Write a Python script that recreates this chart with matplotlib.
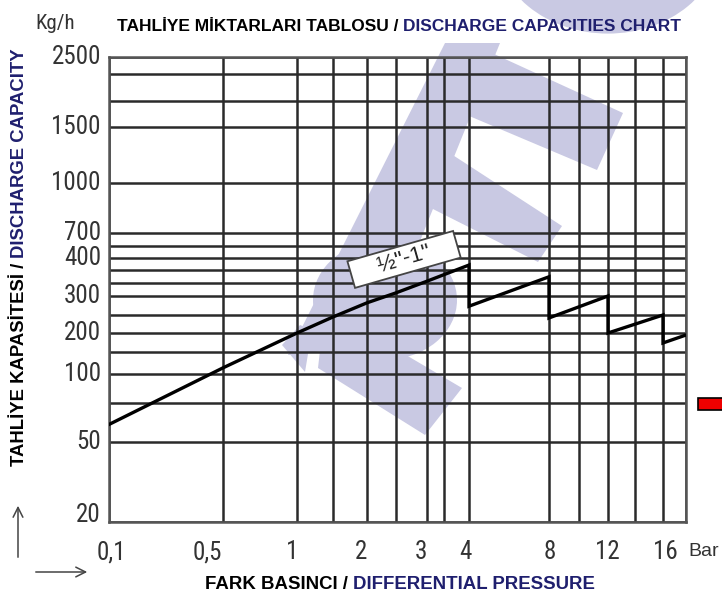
import numpy as np
import matplotlib
matplotlib.use('Agg')
import matplotlib.pyplot as plt
from matplotlib import font_manager
from matplotlib.transforms import offset_copy
from matplotlib.patches import Polygon, Circle, Rectangle

# pressure (bar) and discharge capacity (kg/h)
pressure = [0.1, 0.5, 1, 1.5, 2, 2.5, 3, 3.5, 4, 4, 8, 8, 12, 12, 16, 16, 18]
capacity = [60, 112, 200, 244, 281, 307, 334, 349, 376, 272, 344, 241, 300, 200, 250, 172, 194]

x_ticks = [0.1, 0.5, 1, 2, 3, 4, 8, 12, 16]
x_tick_labels = ['0,1', '0,5', '1', '2', '3', '4', '8', '12', '16']
y_ticks = [20, 50, 100, 200, 300, 400, 700, 1000, 1500, 2500]
y_tick_labels = ['20', '50', '100', '200', '300', '400', '700', '1000', '1500', '2500']

# the printed grid is not a true log scale: grid values and where they sit
x_grid = [0.1, 0.5, 1, 1.5, 2, 2.5, 3, 3.5, 4, 8, 10, 12, 14, 16, 18]
x_grid_pos = [0, 114, 188, 224, 258, 287, 318, 335, 360, 440, 470, 499, 526, 554, 577]
y_grid = [20, 50, 75, 100, 150, 200, 250, 300, 330, 360, 400, 500, 700, 1000, 1500, 1800, 2200, 2500]
y_grid_pos = [0, 80, 119, 148, 170, 189, 207, 226, 239, 252, 264, 276, 289, 339, 395, 421, 448, 465]
# printed x labels sit a little off their grid lines (pixels)
x_label_nudge = [2, -16, -5, -6, -6, -4, 1, -1, 2]

NAVY = '#1f1f6e'
GRID = '#2a2a2a'
TICK = '#333333'
LAVENDER = '#c9c9e3'
SANS = ['Liberation Sans', 'DejaVu Sans']

# narrow digits if a condensed face is around, otherwise a smaller Arial-like face
_installed = {f.name for f in font_manager.fontManager.ttflist}
NARROW, TICK_SIZE, KG_SIZE = SANS, 15.5, 13
for name, size, kg in [('Liberation Sans Narrow', 19, 15.5), ('Roboto Condensed', 18, 15)]:
    if name in _installed:
        NARROW, TICK_SIZE, KG_SIZE = [name, 'DejaVu Sans'], size, kg
        break


def fx(v):
    return np.interp(v, x_grid, x_grid_pos)


def fx_inv(p):
    return np.interp(p, x_grid_pos, x_grid)


def fy(v):
    return np.interp(np.log10(np.clip(v, 1e-9, None)), np.log10(y_grid), y_grid_pos)


def fy_inv(p):
    return 10 ** np.interp(p, y_grid_pos, np.log10(y_grid))


def px(x, y):
    """image pixel (top-left origin) -> figure fraction"""
    return x / 722, 1 - y / 598


def two_part_text(fig, x, y, parts, rotation=0, **kw):
    renderer = fig.canvas.get_renderer()
    for s, c in parts:
        t = fig.text(x, y, s, color=c, rotation=rotation, rotation_mode='anchor',
                     ha='left', va='baseline', **kw)
        bb = t.get_window_extent(renderer)
        if rotation == 0:
            x += bb.width / fig.bbox.width
        else:
            y += bb.height / fig.bbox.height


fig = plt.figure(figsize=(7.22, 5.98), dpi=100)

# faint watermark, behind everything
wm = dict(transform=fig.transFigure, facecolor=LAVENDER, edgecolor='none', zorder=-1)
fig.add_artist(Circle(px(608, -60), 113 / 722, **wm))
fig.add_artist(Circle(px(385, 300), 72 / 722, **wm))
for poly in ([(445, 43), (500, 43), (378, 345), (288, 355)],
             [(470, 43), (623, 113), (597, 170), (455, 110)],
             [(445, 150), (562, 226), (538, 262), (425, 205)],
             [(322, 333), (350, 322), (462, 388), (425, 435), (318, 368)],
             [(282, 345), (300, 325), (312, 330), (305, 372)]):
    fig.add_artist(Polygon([px(*p) for p in poly], closed=True, **wm))

ax = fig.add_axes([109 / 722, 76 / 598, 577 / 722, 465 / 598])
ax.patch.set_alpha(0)

ax.set_xscale('function', functions=(fx, fx_inv))
ax.set_yscale('function', functions=(fy, fy_inv))
ax.set_xlim(0.1, 18)
ax.set_ylim(20, 2500)

ax.set_xticks(x_grid)
ax.set_yticks(y_grid)
ax.set_xticklabels([])
ax.set_yticklabels([])
ax.minorticks_off()
ax.tick_params(length=0)
ax.grid(True, color=GRID, linewidth=1.8)
for sp in ax.spines.values():
    sp.set_color('#555555')
    sp.set_linewidth(1.8)

ax.plot(pressure, capacity, color='black', linewidth=2.4, solid_joinstyle='miter', zorder=3)

for v, lab, dx in zip(x_ticks, x_tick_labels, x_label_nudge):
    tr = offset_copy(ax.get_xaxis_transform(), fig=fig, x=dx, y=0, units='dots')
    ax.text(v, -0.039, lab, transform=tr, ha='center', va='top',
            fontsize=TICK_SIZE, family=NARROW, color=TICK)
ax.text(1.004, -0.046, 'Bar', transform=ax.transAxes, ha='left', va='top',
        fontsize=14, family=SANS, color=TICK)
for v, lab in zip(y_ticks, y_tick_labels):
    va = 'baseline' if v == y_ticks[0] else 'center'
    ax.text(-0.014, v, lab, transform=ax.get_yaxis_transform(), ha='right', va=va,
            fontsize=TICK_SIZE, family=NARROW, color=TICK)

ax.text(2.63, 395, '    ½"-1"    ', rotation=16, ha='center', va='center', fontsize=16,
        family=SANS, color='#222222', zorder=4,
        bbox=dict(boxstyle='square,pad=0.15', facecolor='white', edgecolor='#444444',
                  linewidth=1.3))

# header / axis titles
fig.text(*px(35, 29), 'Kg/h', fontsize=KG_SIZE, family=NARROW, color=TICK, va='baseline')
two_part_text(fig, *px(117, 31), [('TAHLİYE MİKTARLARI TABLOSU / ', 'black'),
                                  ('DISCHARGE CAPACITIES CHART', NAVY)],
              fontsize=12.5, fontweight='bold', family=SANS)
two_part_text(fig, *px(205, 589), [('FARK BASINCI / ', 'black'),
                                   ('DIFFERENTIAL PRESSURE', NAVY)],
              fontsize=13.4, fontweight='bold', family=SANS)
two_part_text(fig, *px(24, 466), [('TAHLİYE KAPASİTESİ / ', 'black'),
                                  ('DISCHARGE CAPACITY', NAVY)],
              rotation=90, fontsize=13.3, fontweight='bold', family=SANS)

# corner arrows
arrow = dict(arrowstyle='->,head_length=0.7,head_width=0.35', color='#444444', lw=1.1)
ax.annotate('', xy=px(18, 503), xytext=px(18, 560), xycoords='figure fraction',
            textcoords='figure fraction', arrowprops=arrow)
ax.annotate('', xy=px(90, 572), xytext=px(33, 572), xycoords='figure fraction',
            textcoords='figure fraction', arrowprops=arrow)

# red marker at the right edge
fig.add_artist(Rectangle(px(698, 410), 30 / 722, 12 / 598, transform=fig.transFigure,
                         facecolor='#ee0000', edgecolor='black', linewidth=1.2))

fig.savefig('out.png', dpi=100)
